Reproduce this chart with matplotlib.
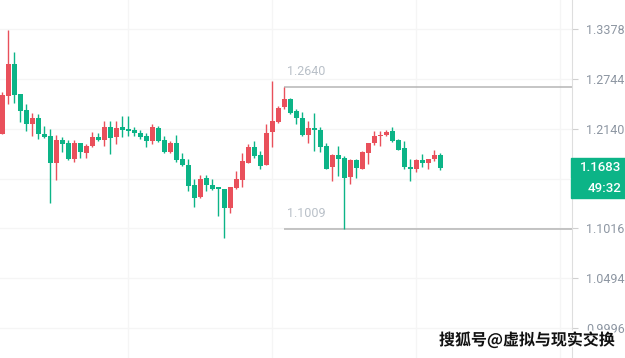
import matplotlib
matplotlib.use("Agg")
import matplotlib.pyplot as plt
import matplotlib.patheffects as pe
from matplotlib.patches import Rectangle
from matplotlib.ticker import NullLocator, FixedLocator
import numpy as np

# candle data (red = up, green = down)
opens = [1.2082, 1.2530, 1.2934, 1.2563, 1.2357, 1.2193, 1.2261, 1.2082, 1.2048, 1.1740,
         1.2010, 1.1967, 1.1786, 1.1967, 1.1855, 1.1936, 1.2040, 1.2005, 1.2157, 1.2040,
         1.2157, 1.2132, 1.2128, 1.2094, 1.2059, 1.1994, 1.2150, 1.2005, 1.1867, 1.1975,
         1.1783, 1.1722, 1.1487, 1.1359, 1.1572, 1.1487, 1.1468, 1.1443, 1.1235, 1.1457,
         1.1545, 1.1745, 1.1929, 1.1829, 1.1717, 1.2097, 1.2217, 1.2397, 1.2499, 1.2349,
         1.2269, 1.2071, 1.2150, 1.2128, 1.1936, 1.1694, 1.1829, 1.1794, 1.1579, 1.1771,
         1.1676, 1.1852, 1.1967, 1.2051, 1.2071, 1.2109, 1.2002, 1.1910, 1.1699, 1.1668,
         1.1771, 1.1745, 1.1783, 1.1829]
closes = [1.2539, 1.2934, 1.2542, 1.2349, 1.2198, 1.2261, 1.2078, 1.2040, 1.1737, 1.2002,
          1.1959, 1.1786, 1.1967, 1.1867, 1.1933, 1.2040, 1.2005, 1.2157, 1.2028, 1.2146,
          1.2120, 1.2113, 1.2086, 1.2044, 1.1990, 1.2154, 1.1994, 1.1867, 1.1975, 1.1775,
          1.1714, 1.1479, 1.1352, 1.1564, 1.1487, 1.1443, 1.1443, 1.1235, 1.1465, 1.1553,
          1.1760, 1.1929, 1.1821, 1.1706, 1.2090, 1.2226, 1.2390, 1.2499, 1.2330, 1.2261,
          1.2071, 1.2150, 1.2120, 1.1925, 1.1676, 1.1829, 1.1791, 1.1567, 1.1771, 1.1683,
          1.1867, 1.1975, 1.2059, 1.2071, 1.2102, 1.1994, 1.1890, 1.1694, 1.1676, 1.1771,
          1.1745, 1.1791, 1.1829, 1.1683]
highs = [1.2579, 1.3365, 1.3083, 1.2563, 1.2430, 1.2330, 1.2318, 1.2177, 1.2137, 1.2071,
         1.2040, 1.2005, 1.2002, 1.1967, 1.1956, 1.2105, 1.2086, 1.2228, 1.2226, 1.2226,
         1.2293, 1.2285, 1.2162, 1.2120, 1.2090, 1.2198, 1.2169, 1.2051, 1.1994, 1.2063,
         1.1860, 1.1783, 1.1553, 1.1602, 1.1602, 1.1553, 1.1468, 1.1443, 1.1465, 1.1648,
         1.1852, 1.1956, 1.1994, 1.1878, 1.2190, 1.2723, 1.2409, 1.2640, 1.2511, 1.2378,
         1.2337, 1.2228, 1.2330, 1.2162, 1.1967, 1.1841, 1.1936, 1.1821, 1.1783, 1.1783,
         1.1878, 1.1975, 1.2117, 1.2109, 1.2128, 1.2162, 1.2013, 1.1994, 1.1791, 1.1791,
         1.1841, 1.1791, 1.1887, 1.1852]
lows = [1.2074, 1.2430, 1.2450, 1.2222, 1.2117, 1.2059, 1.2021, 1.2028, 1.1286, 1.1542,
        1.1872, 1.1775, 1.1756, 1.1798, 1.1798, 1.1925, 1.1994, 1.1936, 1.1844, 1.1964,
        1.2044, 1.2051, 1.2051, 1.2021, 1.1929, 1.1956, 1.1987, 1.1860, 1.1852, 1.1752,
        1.1706, 1.1424, 1.1242, 1.1352, 1.1424, 1.1435, 1.1151, 1.0912, 1.1180, 1.1443,
        1.1468, 1.1737, 1.1794, 1.1668, 1.1717, 1.1929, 1.2210, 1.2369, 1.2309, 1.2201,
        1.2059, 1.1975, 1.1878, 1.1867, 1.1668, 1.1534, 1.1590, 1.1009, 1.1498, 1.1572,
        1.1668, 1.1725, 1.1944, 1.1936, 1.2051, 1.1987, 1.1887, 1.1668, 1.1534, 1.1637,
        1.1699, 1.1676, 1.1763, 1.1660]

price_ticks = [0.9996, 1.0494, 1.1016, 1.1564, 1.2140, 1.2744, 1.3378]
hidden_tick = 1.1564     # sits behind the current-price box
high_mark = 1.2640
low_mark = 1.1009
mark_start = 47          # candle where the high/low lines begin
last_price = "1.1683"
countdown = "49:32"
watermark = "搜狐号@虚拟与现实交换"

RED = "#e9505b"
GREEN = "#0cb487"

o = np.array(opens)
c = np.array(closes)
h = np.array(highs)
l = np.array(lows)
x = np.arange(len(o))
cols = [RED if cc >= oo else GREEN for oo, cc in zip(o, c)]

fig = plt.figure(figsize=(6.25, 3.58), dpi=100)
ax = fig.add_axes([0, 0, 572 / 625, 1])

# wicks then bodies
ax.vlines(x, l, h, colors=cols, linewidth=1.0, zorder=3)
body_lo = np.minimum(o, c)
body_h = np.maximum(np.abs(c - o), 0.0006)
ax.bar(x, body_h, bottom=body_lo, width=0.83, color=cols, linewidth=0, zorder=4)

ax.set_yscale("log")
ax.set_ylim(0.9708, 1.3762)
ax.set_xlim(-0.38, 94.95)

# high / low marker lines
ax.hlines([high_mark, low_mark], mark_start, 94.95, colors="#b5b5b5", linewidth=1.1, zorder=2)
for val in (high_mark, low_mark):
    ax.annotate(f"{val:.4f}", (mark_start, val), xytext=(3, 9), textcoords="offset pixels",
                ha="left", va="bottom", fontsize=9, color="#b9c0c8", family="Roboto")

# axes styling
for s in ["top", "left", "bottom"]:
    ax.spines[s].set_visible(False)
ax.spines["right"].set_color("#dedede")
ax.yaxis.tick_right()
ax.yaxis.set_major_locator(FixedLocator(price_ticks))
ax.yaxis.set_minor_locator(NullLocator())
ax.set_yticklabels(["" if t == hidden_tick else f"{t:.4f}" for t in price_ticks])
ax.tick_params(axis="y", length=4, color="#d0d0d0", labelcolor="#8d96a2",
               labelsize=9, pad=6)
for lab in ax.get_yticklabels():
    lab.set_family("Roboto")
ax.set_xticks([20.95, 44.95, 68.95, 92.95])
ax.tick_params(axis="x", length=0, labelbottom=False)
ax.grid(True, color="#f5f5f5", linewidth=1, zorder=0)
ax.set_axisbelow(True)

# current price + countdown boxes
fig.patches.append(Rectangle((571 / 625, 1 - 177.7 / 358), 54 / 625, 19.5 / 358,
                             transform=fig.transFigure, color=GREEN, zorder=5))
fig.patches.append(Rectangle((571 / 625, 1 - 198.3 / 358), 54 / 625, 19.5 / 358,
                             transform=fig.transFigure, color=GREEN, zorder=5))
fig.text(601 / 625, 1 - 168 / 358, last_price, ha="center", va="center", color="white",
         fontsize=9.5, family="Roboto", fontweight="medium", zorder=6)
fig.text(605 / 625, 1 - 189 / 358, countdown, ha="center", va="center", color="white",
         fontsize=9.5, family="Roboto", fontweight="medium", zorder=6)

# watermark
fig.text(615 / 625, 1 - 340 / 358, watermark, ha="right", va="center", fontsize=11.5,
         fontweight="bold", color="#111111", family=["Noto Sans CJK SC", "DejaVu Sans"],
         path_effects=[pe.withStroke(linewidth=2.5, foreground="white")], zorder=7)

fig.savefig("out.png", dpi=100)
